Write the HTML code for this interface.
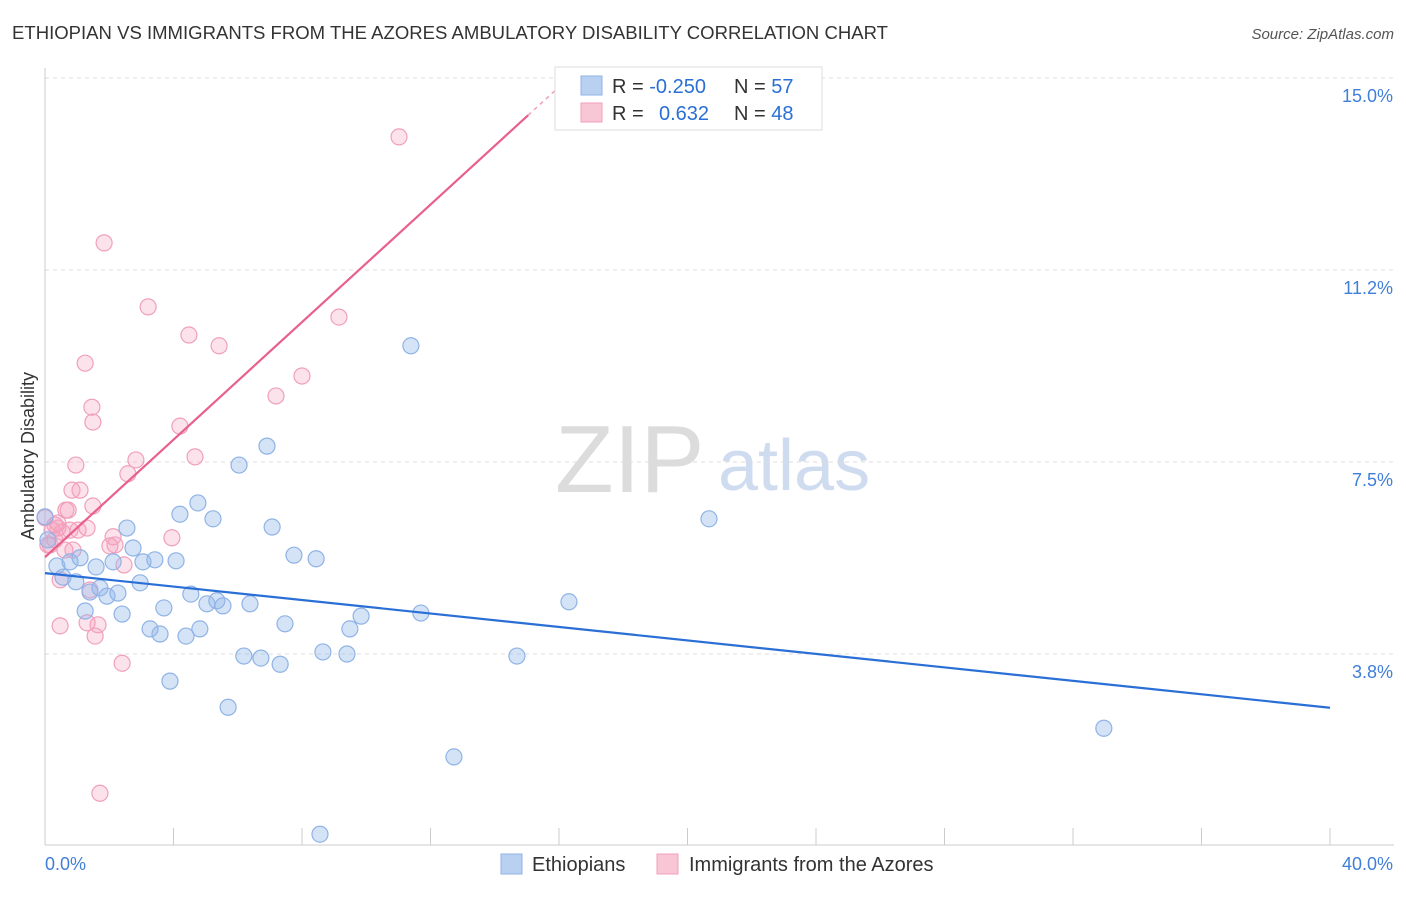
<!DOCTYPE html>
<html><head><meta charset="utf-8">
<style>
body{margin:0;background:#fff;font-family:"Liberation Sans",sans-serif;}
svg text{font-family:"Liberation Sans",sans-serif;}
</style></head>
<body>
<svg id="chart" width="1406" height="892" viewBox="0 0 1406 892" xmlns="http://www.w3.org/2000/svg">
<text x="12" y="39" font-size="18" fill="#333" textLength="876" lengthAdjust="spacingAndGlyphs">ETHIOPIAN VS IMMIGRANTS FROM THE AZORES AMBULATORY DISABILITY CORRELATION CHART</text>
<text x="1394" y="39" font-size="15" fill="#555" text-anchor="end" font-style="italic">Source: ZipAtlas.com</text>
<g>
<text x="555" y="492" font-size="96" fill="#dcdcdc" font-family="Liberation Serif,serif">ZIP</text>
<text x="718" y="490" font-size="72" fill="#cfdcf0">atlas</text>
</g>
<g id="grid"></g>
<g id="axes"></g>
<text transform="translate(34,456) rotate(-90)" font-size="18" fill="#333" text-anchor="middle">Ambulatory Disability</text>
<g id="pts"></g>
<g id="lines"></g>
<g>
<rect x="555" y="67" width="267" height="63" fill="#fff" stroke="#ddd"/>
<rect x="581" y="76" width="21" height="19" fill="#b8d1f3" stroke="#8fb3e6"/>
<rect x="581" y="103" width="21" height="19" fill="#f9c6d6" stroke="#f0a0bb"/>
<text x="612" y="93" font-size="20" fill="#333">R = <tspan fill="#2a6fd6">-0.250</tspan></text>
<text x="734" y="93" font-size="20" fill="#333">N = <tspan fill="#2a6fd6">57</tspan></text>
<text x="612" y="120" font-size="20" fill="#333">R = <tspan fill="#2a6fd6" x="659">0.632</tspan></text>
<text x="734" y="120" font-size="20" fill="#333">N = <tspan fill="#2a6fd6">48</tspan></text>
</g>
<g>
<rect x="501" y="854" width="21" height="20" fill="#b8d1f3" stroke="#8fb3e6"/>
<text x="532" y="871" font-size="20" fill="#333">Ethiopians</text>
<rect x="657" y="854" width="21" height="20" fill="#f9c6d6" stroke="#f0a0bb"/>
<text x="689" y="871" font-size="20" fill="#333">Immigrants from the Azores</text>
</g>
</svg>
<script>
const yTicks=[3.75,7.5,11.25,15];
const yTickLabels=["3.8%","7.5%","11.2%","15.0%"];
const xTickCount=10;
const xLabels=["0.0%","40.0%"];
const blueX=[0,0.09,0.37,0.56,0.78,0.96,1.09,1.25,1.4,1.59,1.71,1.93,2.12,2.27,2.4,2.55,2.74,2.96,3.05,3.27,3.42,3.58,3.7,3.89,4.08,4.2,4.39,4.54,4.76,4.82,5.04,5.23,5.35,5.54,5.7,6.04,6.19,6.38,6.72,6.91,7.07,7.32,7.47,7.75,8.44,8.56,8.65,9.4,9.49,9.84,11.39,11.7,12.73,14.69,16.31,20.67,32.96];
const blueY=[6.43,5.98,5.47,5.25,5.55,5.16,5.63,4.59,4.96,5.45,5.04,4.88,5.55,4.94,4.53,6.21,5.82,5.14,5.55,4.24,5.59,4.14,4.65,3.22,5.57,6.48,4.1,4.92,6.7,4.24,4.73,6.39,4.79,4.69,2.71,7.44,3.71,4.73,3.67,7.81,6.23,3.55,4.34,5.68,5.61,0.23,3.79,3.75,4.24,4.49,9.77,4.55,1.74,3.71,4.77,6.39,2.3];
const pinkX=[0,0.09,0.22,0.31,0.4,0.47,0.47,0.53,0.65,0.72,0.78,0.84,0.87,0.96,1.03,1.09,1.25,1.31,1.31,1.4,1.46,1.49,1.49,1.56,1.65,1.71,1.84,2.02,2.12,2.18,2.4,2.46,2.58,2.83,3.21,3.95,4.2,4.48,4.67,5.42,7.19,8.0,9.15,11.02,0.31,0.62,0.16,0.4];
const pinkY=[6.41,5.88,6.17,6.27,6.31,5.2,4.3,6.13,6.56,6.56,6.17,6.95,5.78,7.44,6.17,6.95,9.43,6.21,4.36,5.0,8.57,8.28,6.64,4.1,4.32,1.03,11.78,5.86,6.04,5.88,3.57,5.49,7.27,7.54,10.53,6.02,8.2,9.98,7.6,9.77,8.79,9.18,10.33,13.85,5.98,5.78,5.88,6.21];
const blueTrend=[5.33,2.7];
const pinkTrend=[5.64,0.574];
const pinkSolidEnd=15.04, pinkDashEnd=16.0;

const NS="http://www.w3.org/2000/svg";
const xs=v=>45+v*32.125;
const ys=v=>462-(v-7.5)*51.2;
function mk(tag,attrs,parent){const e=document.createElementNS(NS,tag);for(const k in attrs)e.setAttribute(k,attrs[k]);parent.appendChild(e);return e;}
const grid=document.getElementById('grid'),axes=document.getElementById('axes'),pts=document.getElementById('pts'),lines=document.getElementById('lines');
yTicks.forEach((t,i)=>{
  const l=mk('line',{x1:45,x2:1394,y1:ys(t),y2:ys(t),stroke:'#ddd','stroke-dasharray':'4,4'},grid);
  
  
  const tx=mk('text',{x:1393,y:ys(t)+24,'font-size':18,fill:'#3f7fd9','text-anchor':'end'},axes);
  tx.textContent=yTickLabels[i];
  
  
});
const ax=mk('line',{x1:45,x2:1394,y1:845,y2:845,stroke:'#ccc'},axes);


const ay=mk('line',{x1:45,x2:45,y1:68,y2:845,stroke:'#ccc'},axes);


for(let i=0;i<=xTickCount;i++){
  const v=i*40/xTickCount;
  const t=mk('line',{x1:xs(v),x2:xs(v),y1:828,y2:845,stroke:'#ccc'},axes);
  
  
}
const xl0=mk('text',{x:45,y:870,'font-size':18,fill:'#3f7fd9'},axes);xl0.textContent=xLabels[0];


const xl1=mk('text',{x:1393,y:870,'font-size':18,fill:'#3f7fd9','text-anchor':'end'},axes);xl1.textContent=xLabels[1];


pinkX.forEach((x,i)=>{
  const c=mk('circle',{cx:xs(x),cy:ys(pinkY[i]),r:8,fill:'rgba(245,160,190,0.3)',stroke:'#f0a0bb','stroke-width':1.2},pts);
  
  
});
blueX.forEach((x,i)=>{
  const c=mk('circle',{cx:xs(x),cy:ys(blueY[i]),r:8,fill:'rgba(150,185,235,0.4)',stroke:'#8fb3e6','stroke-width':1.2},pts);
  
  
});
const bl=mk('line',{x1:xs(0),y1:ys(blueTrend[0]),x2:xs(40),y2:ys(blueTrend[1]),stroke:'#2a6fd6','stroke-width':2.2},lines);


const pf=v=>pinkTrend[0]+pinkTrend[1]*v;
const pl=mk('line',{x1:xs(0),y1:ys(pf(0)),x2:xs(pinkSolidEnd),y2:ys(pf(pinkSolidEnd)),stroke:'#e8608c','stroke-width':2.2},lines);


const pd=mk('line',{x1:xs(pinkSolidEnd),y1:ys(pf(pinkSolidEnd)),x2:xs(pinkDashEnd),y2:ys(pf(pinkDashEnd)),stroke:'#f0a0bb','stroke-width':1.5,'stroke-dasharray':'4,4'},lines);


</script>
</body></html>
